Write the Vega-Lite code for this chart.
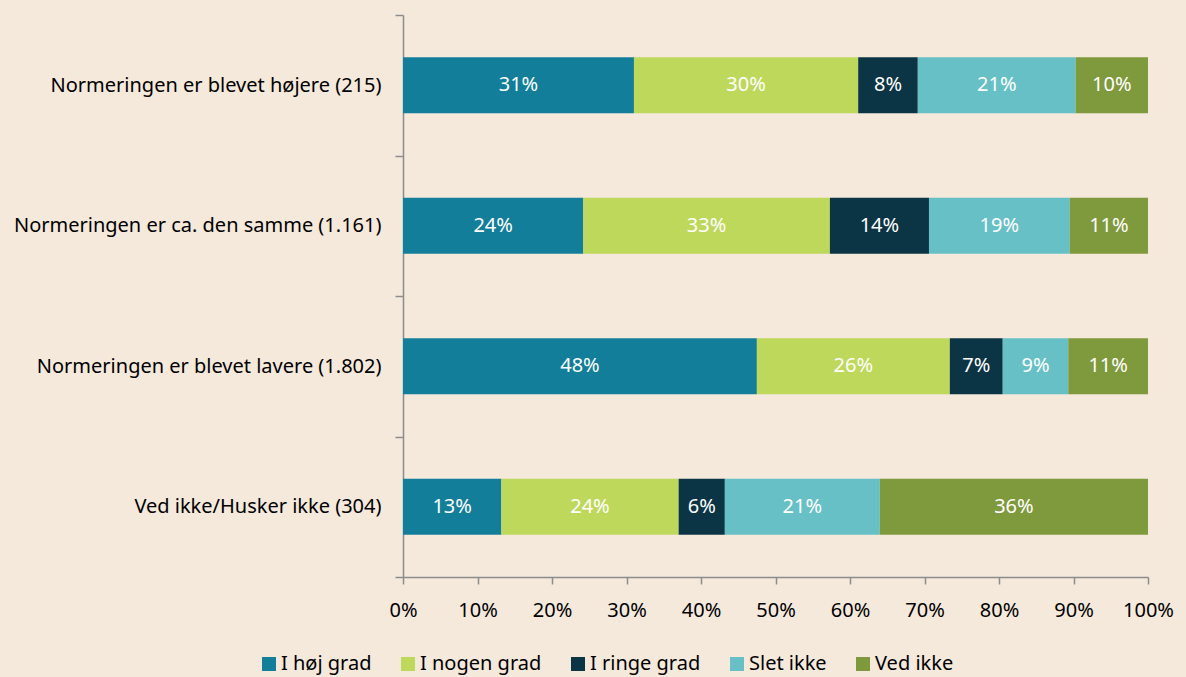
{
  "$schema": "https://vega.github.io/schema/vega-lite/v6.json",
  "autosize": "none",
  "width": 745,
  "height": 562,
  "padding": {"left": 403, "top": 15, "right": 38, "bottom": 100},
  "background": "#f5e9dc",
  "config": {
    "view": {"stroke": null},
    "font": "Noto Sans",
    "axis": {"labelFont": "Noto Sans", "labelFontSize": 20, "labelColor": "#000000", "domainColor": "#8c8c8c", "tickColor": "#8c8c8c", "domainWidth": 1.5, "tickWidth": 1.5, "grid": false, "title": null}
  },
  "data": {
    "values": [
      {"cat": "Normeringen er blevet højere (215)", "grp": "I høj grad", "v": 0.310, "label": "31%"},
      {"cat": "Normeringen er blevet højere (215)", "grp": "I nogen grad", "v": 0.301, "label": "30%"},
      {"cat": "Normeringen er blevet højere (215)", "grp": "I ringe grad", "v": 0.080, "label": "8%"},
      {"cat": "Normeringen er blevet højere (215)", "grp": "Slet ikke", "v": 0.212, "label": "21%"},
      {"cat": "Normeringen er blevet højere (215)", "grp": "Ved ikke", "v": 0.097, "label": "10%"},
      {"cat": "Normeringen er ca. den samme (1.161)", "grp": "I høj grad", "v": 0.242, "label": "24%"},
      {"cat": "Normeringen er ca. den samme (1.161)", "grp": "I nogen grad", "v": 0.331, "label": "33%"},
      {"cat": "Normeringen er ca. den samme (1.161)", "grp": "I ringe grad", "v": 0.133, "label": "14%"},
      {"cat": "Normeringen er ca. den samme (1.161)", "grp": "Slet ikke", "v": 0.189, "label": "19%"},
      {"cat": "Normeringen er ca. den samme (1.161)", "grp": "Ved ikke", "v": 0.105, "label": "11%"},
      {"cat": "Normeringen er blevet lavere (1.802)", "grp": "I høj grad", "v": 0.475, "label": "48%"},
      {"cat": "Normeringen er blevet lavere (1.802)", "grp": "I nogen grad", "v": 0.259, "label": "26%"},
      {"cat": "Normeringen er blevet lavere (1.802)", "grp": "I ringe grad", "v": 0.071, "label": "7%"},
      {"cat": "Normeringen er blevet lavere (1.802)", "grp": "Slet ikke", "v": 0.088, "label": "9%"},
      {"cat": "Normeringen er blevet lavere (1.802)", "grp": "Ved ikke", "v": 0.107, "label": "11%"},
      {"cat": "Ved ikke/Husker ikke (304)", "grp": "I høj grad", "v": 0.132, "label": "13%"},
      {"cat": "Ved ikke/Husker ikke (304)", "grp": "I nogen grad", "v": 0.238, "label": "24%"},
      {"cat": "Ved ikke/Husker ikke (304)", "grp": "I ringe grad", "v": 0.062, "label": "6%"},
      {"cat": "Ved ikke/Husker ikke (304)", "grp": "Slet ikke", "v": 0.208, "label": "21%"},
      {"cat": "Ved ikke/Husker ikke (304)", "grp": "Ved ikke", "v": 0.360, "label": "36%"}
    ]
  },
  "encoding": {
    "y": {
      "field": "cat", "type": "nominal", "sort": null,
      "scale": {"paddingInner": 0, "paddingOuter": 0},
      "axis": {"tickBand": "extent", "tickSize": 8, "labelPadding": 14, "labelLimit": 400}
    }
  },
  "layer": [
    {
      "mark": {"type": "bar", "height": {"band": 0.4}},
      "encoding": {
        "x": {
          "field": "v", "type": "quantitative", "stack": "zero",
          "scale": {"domain": [0, 1], "nice": false},
          "axis": {"format": ".0%", "values": [0, 0.1, 0.2, 0.3, 0.4, 0.5, 0.6, 0.7, 0.8, 0.9, 1], "tickSize": 7, "labelPadding": 16, "labelFlush": false, "labelOverlap": false}
        },
        "color": {
          "field": "grp", "type": "nominal",
          "scale": {
            "domain": ["I høj grad", "I nogen grad", "I ringe grad", "Slet ikke", "Ved ikke"],
            "range": ["#127e9a", "#bdd85b", "#0b3444", "#67c0c6", "#7f993d"]
          },
          "legend": {
            "title": null, "orient": "none", "direction": "horizontal",
            "legendX": -144, "legendY": 639,
            "symbolType": "square", "symbolSize": 196, "symbolStrokeWidth": 0, "symbolOpacity": 1,
            "labelFont": "Noto Sans", "labelFontSize": 20, "labelColor": "#000000", "labelOffset": 2,
            "columnPadding": 26, "labelLimit": 300
          }
        },
        "order": {"field": "grp"}
      }
    },
    {
      "mark": {"type": "text", "color": "#ffffff", "fontSize": 20, "font": "Noto Sans"},
      "encoding": {
        "x": {"field": "v", "type": "quantitative", "stack": "zero", "bandPosition": 0.5},
        "detail": {"field": "grp", "type": "nominal"},
        "order": {"field": "grp"},
        "text": {"field": "label", "type": "nominal"}
      }
    }
  ]
}
